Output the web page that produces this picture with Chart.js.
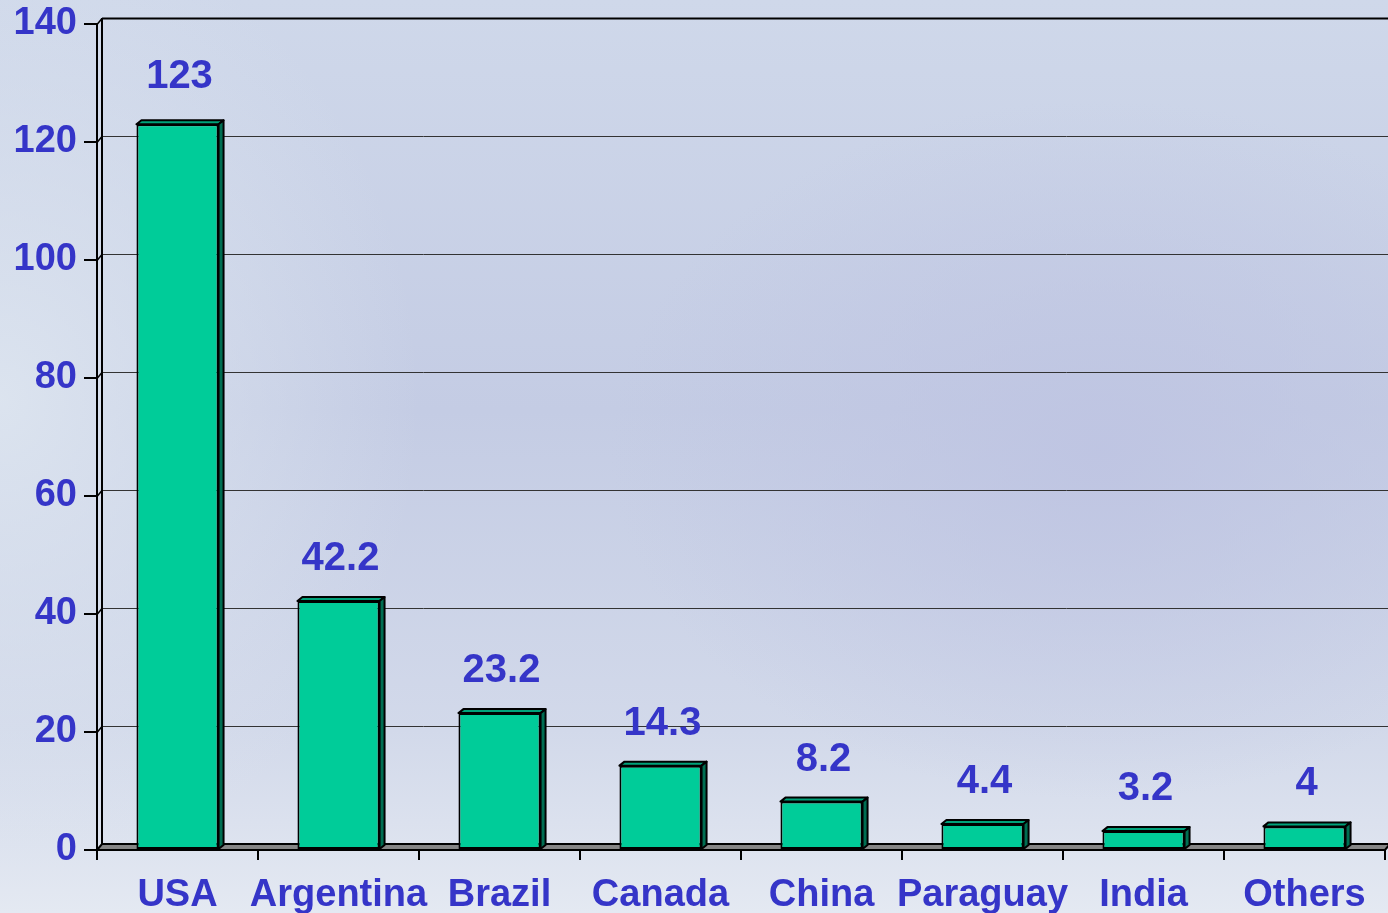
<!DOCTYPE html>
<html>
<head>
<meta charset="utf-8">
<title>Bar chart</title>
<script src="https://cdn.jsdelivr.net/npm/chart.js@4.4.1/dist/chart.umd.min.js"></script>
<style>
  html, body { margin: 0; padding: 0; }
  body {
    width: 1388px; height: 913px; overflow: hidden;
    background:
      radial-gradient(ellipse 700px 500px at 1100px 450px, rgba(190,196,226,0.9), rgba(190,196,226,0) 70%),
      radial-gradient(ellipse 600px 700px at 0px 400px, rgba(222,230,240,0.9), rgba(222,230,240,0) 70%),
      linear-gradient(180deg, #cfd8ea 0%, #c4cce4 45%, #d2d9ea 80%, #e4e9f2 100%);
  }
  #wrap { position: absolute; left: 0; top: 0; width: 1388px; height: 913px; }
</style>
</head>
<body>
<div id="wrap"><canvas id="chart" width="1388" height="913"></canvas></div>
<script>
// Data
const categories = ['USA', 'Argentina', 'Brazil', 'Canada', 'China', 'Paraguay', 'India', 'Others'];
const values = [123, 42.2, 23.2, 14.3, 8.2, 4.4, 3.2, 4];
const yTicks = [0, 20, 40, 60, 80, 100, 120, 140];

const labelColor = '#3535c8';
const fontFamily = '"Liberation Sans", Arial, sans-serif';
const depthX = 5;
const depthY = 6;

// back wall, gridlines and floor
const wallPlugin = {
  id: 'wall',
  beforeDatasetsDraw(chart) {
    const ctx = chart.ctx;
    const area = chart.chartArea;
    const y = chart.scales.y;
    ctx.save();
    ctx.strokeStyle = '#000';
    // gridlines on back wall
    yTicks.forEach(v => {
      if (v === 0) return;
      const py = Math.round(y.getPixelForValue(v)) - depthY + 0.5;
      ctx.strokeStyle = v === 140 ? '#000' : '#333';
      ctx.lineWidth = v === 140 ? 2 : 1;
      ctx.beginPath();
      ctx.moveTo(area.left + depthX, py);
      ctx.lineTo(chart.width, py);
      ctx.stroke();
      ctx.lineWidth = 1.5;
      ctx.strokeStyle = '#000';
      ctx.beginPath();
      ctx.moveTo(area.left, py + depthY);
      ctx.lineTo(area.left + depthX, py);
      ctx.stroke();
    });
    // back wall left edge
    ctx.lineWidth = 2;
    ctx.beginPath();
    ctx.moveTo(area.left + depthX, area.top - depthY);
    ctx.lineTo(area.left + depthX, area.bottom - depthY);
    ctx.stroke();
    // floor
    ctx.fillStyle = '#858585';
    ctx.beginPath();
    ctx.moveTo(area.left, area.bottom);
    ctx.lineTo(area.left + depthX, area.bottom - depthY);
    ctx.lineTo(area.right + depthX, area.bottom - depthY);
    ctx.lineTo(area.right, area.bottom);
    ctx.closePath();
    ctx.fill();
    ctx.lineWidth = 2;
    ctx.beginPath();
    ctx.moveTo(area.left, area.bottom);
    ctx.lineTo(area.left + depthX, area.bottom - depthY);
    ctx.lineTo(area.right + depthX, area.bottom - depthY);
    ctx.moveTo(area.left, area.bottom);
    ctx.lineTo(area.right, area.bottom);
    ctx.lineTo(area.right + depthX, area.bottom - depthY);
    ctx.stroke();
    ctx.restore();
  },
  afterDatasetsDraw(chart) {
    const ctx = chart.ctx;
    const meta = chart.getDatasetMeta(0);
    ctx.save();
    ctx.lineWidth = 2;
    ctx.strokeStyle = '#000';
    ctx.lineJoin = 'round';
    meta.data.forEach((bar, i) => {
      const l = bar.x - bar.width / 2;
      const r = bar.x + bar.width / 2;
      const t = bar.y;
      const b = bar.base;
      // top face
      ctx.fillStyle = '#00a27a';
      ctx.beginPath();
      ctx.moveTo(l, t);
      ctx.lineTo(l + depthX, t - depthY + 2);
      ctx.lineTo(r + depthX, t - depthY + 2);
      ctx.lineTo(r, t);
      ctx.closePath();
      ctx.fill();
      ctx.stroke();
      // side face
      ctx.fillStyle = '#006e52';
      ctx.beginPath();
      ctx.moveTo(r, t);
      ctx.lineTo(r + depthX, t - depthY + 2);
      ctx.lineTo(r + depthX, b - depthY + 2);
      ctx.lineTo(r, b);
      ctx.closePath();
      ctx.fill();
      ctx.stroke();
      // value label
      ctx.fillStyle = labelColor;
      ctx.font = 'bold 40px ' + fontFamily;
      ctx.textAlign = 'center';
      ctx.textBaseline = 'alphabetic';
      ctx.fillText(String(values[i]), bar.x + 2, t - (i === 0 ? 36 : 31));
    });
    ctx.restore();
  }
};

new Chart(document.getElementById('chart'), {
  type: 'bar',
  data: {
    labels: categories,
    datasets: [{
      data: values,
      backgroundColor: '#00cc99',
      borderColor: '#000',
      borderWidth: 2,
      borderSkipped: false,
      barPercentage: 0.51,
      categoryPercentage: 1
    }]
  },
  plugins: [wallPlugin],
  options: {
    responsive: false,
    animation: false,
    devicePixelRatio: 1,
    layout: { padding: { top: 24, right: 3, left: 0, bottom: 0 } },
    plugins: {
      legend: { display: false },
      tooltip: { enabled: false }
    },
    scales: {
      x: {
        offset: true,
        grid: {
          offset: true,
          drawOnChartArea: false,
          drawTicks: true,
          tickLength: 10,
          color: '#000',
          lineWidth: 2
        },
        border: { display: false },
        ticks: {
          color: labelColor,
          padding: 13,
          maxRotation: 0,
          autoSkip: false,
          font: { family: fontFamily, size: 38, weight: 'bold' }
        },
        afterFit(scale) {
          scale.height = 63;
          scale.paddingLeft = 0;
          scale.paddingRight = 0;
        }
      },
      y: {
        min: 0,
        max: 140,
        afterBuildTicks(scale) { scale.ticks = yTicks.map(v => ({ value: v })); },
        grid: {
          drawOnChartArea: false,
          drawTicks: true,
          tickLength: 13,
          color: '#000',
          lineWidth: 2
        },
        border: { display: true, color: '#000', width: 2 },
        ticks: {
          color: labelColor,
          padding: 7,
          font: { family: fontFamily, size: 38, weight: 'bold' }
        },
        afterFit(scale) {
          scale.width = 97;
          scale.paddingTop = 0;
          scale.paddingBottom = 0;
        }
      }
    }
  }
});
</script>
</body>
</html>
